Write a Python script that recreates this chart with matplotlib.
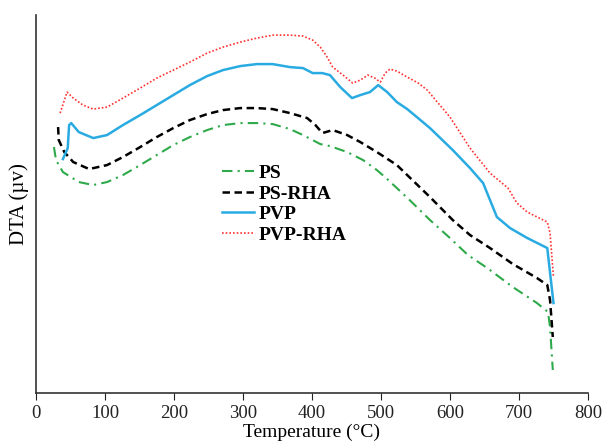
import matplotlib
matplotlib.use("Agg")
from matplotlib import pyplot as plt

plt.rcParams['font.family'] = ['Liberation Serif', 'DejaVu Serif']

# PS (green dash-dot)
ps_t = [26, 29, 39, 62, 83, 103, 126, 151, 175, 199, 223, 248, 271, 296, 320, 343, 368,
        387, 412, 426, 451, 474, 494, 509, 540, 571, 600, 626, 654, 691, 726, 742, 745, 749]
ps_y = [246, 233, 221, 211, 208, 211, 218, 228, 238, 248, 256, 263, 268, 270, 270, 269, 264,
        258, 249, 247, 241, 233, 223, 214, 194, 173, 155, 138, 125, 106, 90, 81, 66, 23]

# PS-RHA (black dashed)
psrha_t = [32, 33, 41, 54, 77, 103, 126, 151, 175, 199, 223, 248, 271, 296, 320, 343, 368,
           393, 405, 415, 430, 451, 470, 494, 523, 538, 571, 604, 629, 658, 691, 726, 741,
           745, 749]
psrha_y = [266, 253, 241, 231, 224, 228, 236, 246, 256, 265, 273, 279, 283, 285, 285, 284, 280,
           275, 268, 260, 263, 258, 251, 241, 228, 218, 196, 173, 158, 145, 129, 115, 108,
           93, 56]

# PVP (blue solid)
pvp_t = [39, 46, 48, 51, 62, 83, 103, 126, 151, 175, 199, 223, 248, 271, 296, 320, 343,
         368, 387, 401, 415, 426, 441, 458, 470, 484, 496, 509, 523, 538, 552, 571, 586,
         604, 629, 648, 658, 668, 687, 712, 741, 750]
pvp_y = [234, 245, 268, 270, 261, 255, 258, 268, 278, 288, 298, 308, 317, 323, 327, 329, 329,
         326, 325, 320, 320, 318, 306, 295, 298, 301, 308, 301, 291, 284, 276, 265, 255,
         243, 225, 210, 193, 176, 165, 155, 145, 90]

# PVP-RHA (red dotted)
pvprha_t = [35, 45, 54, 68, 83, 103, 126, 151, 175, 199, 223, 248, 271, 296, 320, 344, 368,
            387, 401, 412, 422, 430, 445, 459, 470, 481, 491, 499, 506, 513, 523, 538, 554,
            567, 600, 629, 658, 684, 697, 712, 741, 745, 750]
pvprha_y = [280, 301, 295, 288, 284, 286, 295, 305, 315, 323, 331, 340, 346, 351, 355, 358, 358,
            357, 353, 346, 336, 326, 318, 310, 313, 318, 315, 311, 320, 324, 322, 316, 310,
            303, 276, 245, 220, 205, 190, 181, 171, 160, 116]

fig = plt.figure(figsize=(6.03, 4.43), dpi=100)
ax = fig.add_axes([0.0597, 0.1129, 0.9154, 0.853])

ax.plot(ps_t, ps_y, color='#2eaa4a', lw=1.5, linestyle=(0, (5, 2.5, 1, 2.5)), label='PS')
ax.plot(psrha_t, psrha_y, color='black', lw=1.8, linestyle=(0, (3, 1.8)), label='PS-RHA')
ax.plot(pvp_t, pvp_y, color='#29abe2', lw=1.8, linestyle='-', label='PVP')
ax.plot(pvprha_t, pvprha_y, color='#ff3030', lw=1.2, linestyle=(0, (1, 1.2)), label='PVP-RHA')

ax.set_xlim(0, 800)
ax.set_ylim(0, 378)
ax.set_xticks(range(0, 801, 100))
ax.set_yticks([])
ax.tick_params(axis='x', direction='out', length=5, pad=4, labelsize=13.5, colors='#222222')
for s in ['top', 'right']:
    ax.spines[s].set_visible(False)
for s in ['left', 'bottom']:
    ax.spines[s].set_color('#333333')
    ax.spines[s].set_linewidth(1.2)

ax.set_xlabel('Temperature (°C)', fontsize=14, labelpad=1)
ax.set_ylabel('DTA (µv)', fontsize=15, labelpad=5)

ax.legend(loc='upper left', bbox_to_anchor=(0.337, 0.605), frameon=False,
          prop={'weight': 'bold', 'size': 14}, handlelength=1.65, handletextpad=0.25,
          labelspacing=0.15, borderpad=0, borderaxespad=0)

fig.savefig('out.png', dpi=100)
